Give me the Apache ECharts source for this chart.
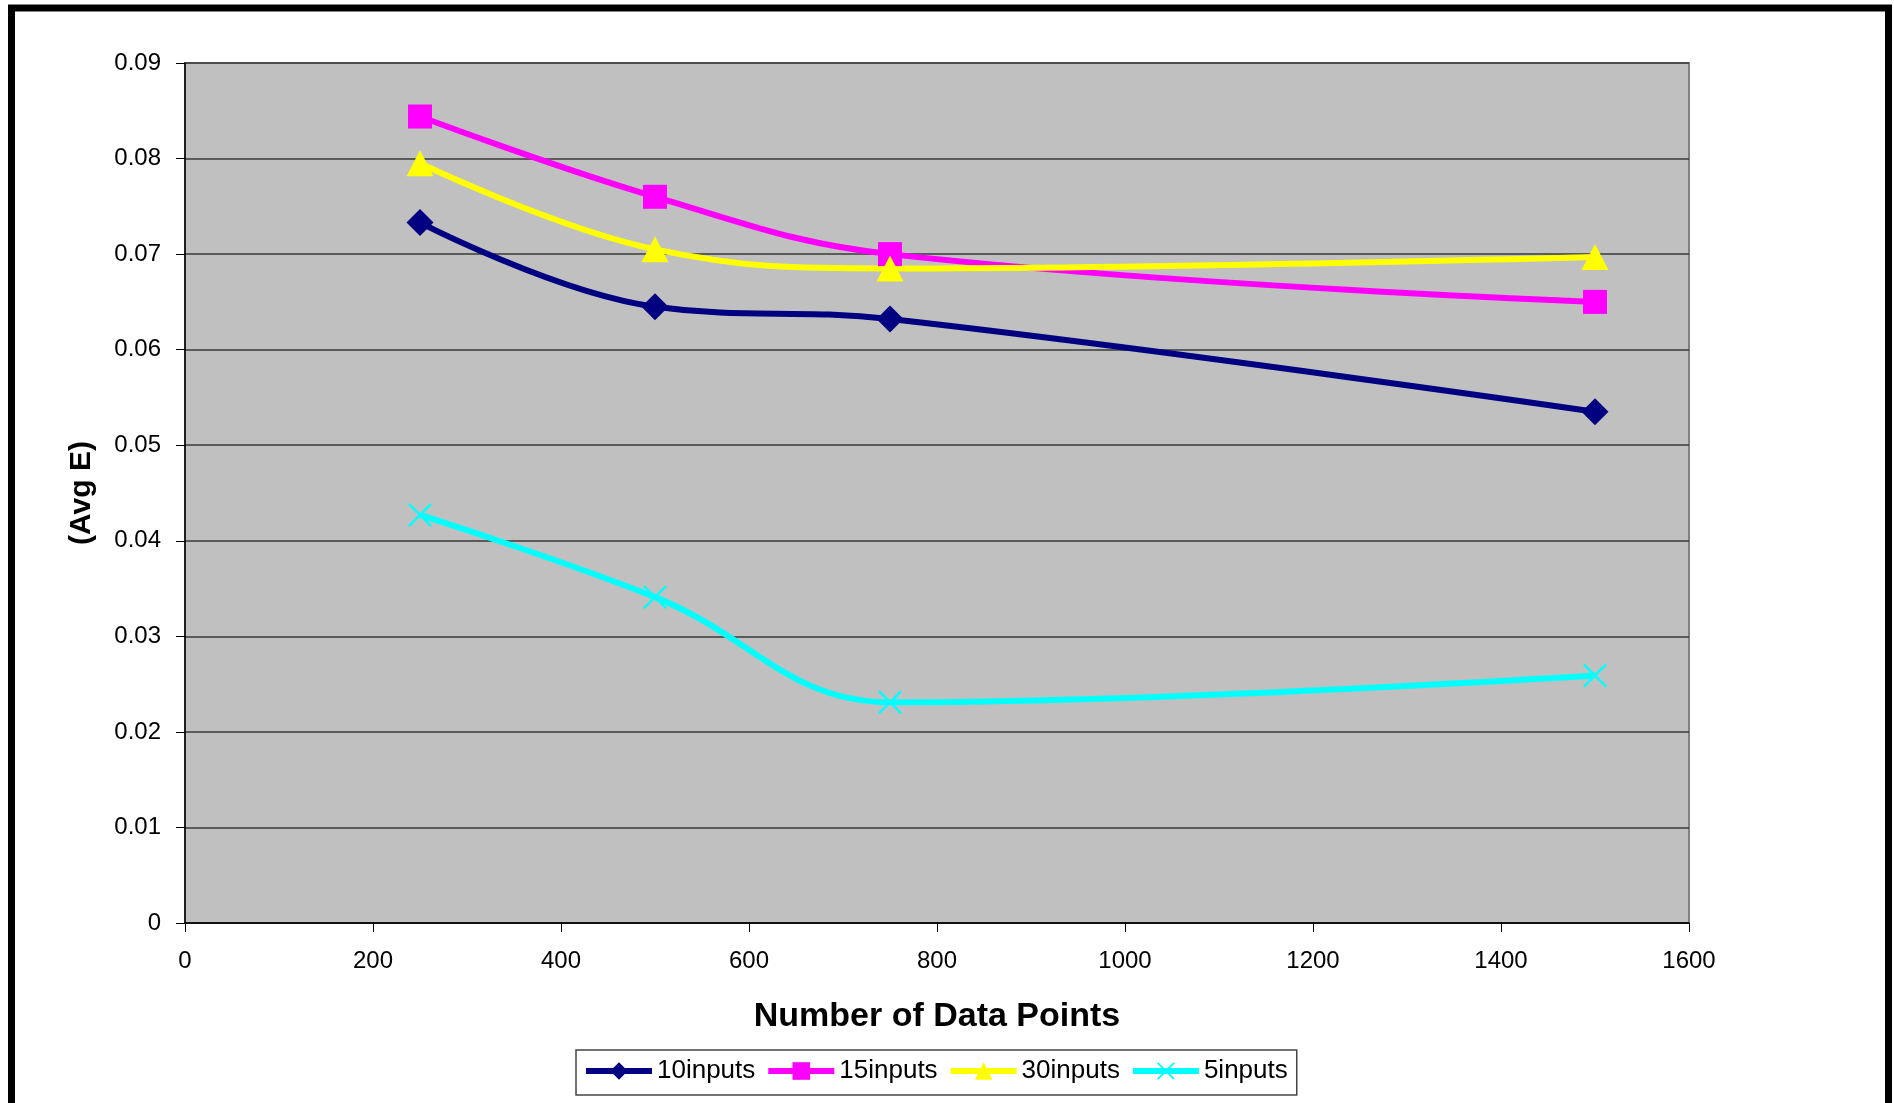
<!DOCTYPE html>
<html>
<head>
<meta charset="utf-8">
<script src="https://cdn.jsdelivr.net/npm/echarts@6/dist/echarts.min.js"></script>
<style>
html,body{margin:0;padding:0;background:#fff;}
#chart{width:1894px;height:1103px;}
</style>
</head>
<body>
<div id="chart"></div>
<script>
const xValues = [250, 500, 750, 1500];
const seriesNames = ['10inputs', '15inputs', '30inputs', '5inputs'];
const inputs10 = [0.0733, 0.0645, 0.0632, 0.0535];
const inputs15 = [0.0844, 0.0760, 0.0700, 0.0650];
const inputs30 = [0.0795, 0.0705, 0.0685, 0.0697];
const inputs5  = [0.0427, 0.0341, 0.0231, 0.0259];
const xTicks = [0, 200, 400, 600, 800, 1000, 1200, 1400, 1600];
const yTicks = [0, 0.01, 0.02, 0.03, 0.04, 0.05, 0.06, 0.07, 0.08, 0.09];

const FONT = '"Liberation Sans", Arial, sans-serif';
const crossPath = 'path://M0,7L7,0L50,43L93,0L100,7L57,50L100,93L93,100L50,57L7,100L0,93L43,50Z';

function pairs(vals){ return xValues.map((x,i)=>[x, vals[i]]); }

const styles = [
  {color:'#000080', symbol:'diamond', size:[27,27]},
  {color:'#FF00FF', symbol:'rect', size:[24,24]},
  {color:'#FFFF00', symbol:'triangle', size:[27,26]},
  {color:'#00FFFF', symbol:crossPath, size:[24,24]}
];
const data = [inputs10, inputs15, inputs30, inputs5];

const chart = echarts.init(document.getElementById('chart'), null, {renderer:'canvas'});
chart.setOption({
  animation:false,
  backgroundColor:'#ffffff',
  graphic:[{
    type:'rect', z:100,
    shape:{x:11.5, y:8, width:1877, height:1130},
    style:{fill:'none', stroke:'#000', lineWidth:7}
  }],
  grid:{
    left:185, top:63, width:1504, height:860,
    show:true, backgroundColor:'#C0C0C0', borderColor:'#808080', borderWidth:2
  },
  legend:{
    left:576, top:1050,
    data:seriesNames,
    itemWidth:66, itemHeight:22, itemGap:10,
    padding:[8,9,11,7],
    lineStyle:{width:6},
    borderColor:'#444', borderWidth:1.5, backgroundColor:'#fff',
    textStyle:{fontFamily:FONT, fontSize:26, color:'#000'}
  },
  xAxis:{
    type:'value', min:0, max:1600, interval:200,
    name:'Number of Data Points', nameLocation:'middle', nameGap:77,
    nameTextStyle:{fontFamily:FONT, fontSize:34, fontWeight:'bold', color:'#000'},
    axisLine:{show:true, lineStyle:{color:'#000', width:1.5}},
    axisTick:{show:true, inside:false, length:9, lineStyle:{color:'#000', width:1}},
    axisLabel:{fontFamily:FONT, fontSize:24, color:'#000', margin:26,
      formatter:function(v){ return xTicks.indexOf(v) >= 0 ? String(v) : ''; }},
    splitLine:{show:false}
  },
  yAxis:{
    type:'value', min:0, max:0.09, interval:0.01,
    name:'(Avg E)', nameLocation:'middle', nameGap:88,
    nameTextStyle:{fontFamily:FONT, fontSize:30, fontWeight:'bold', color:'#000'},
    axisLine:{show:true, lineStyle:{color:'#000', width:1.5}},
    axisTick:{show:true, inside:false, length:9, lineStyle:{color:'#000', width:1}},
    axisLabel:{fontFamily:FONT, fontSize:24, color:'#000', margin:24,
      formatter:function(v){
        const t = yTicks.find(y => Math.abs(y - v) < 1e-9);
        return t === undefined ? '' : (t === 0 ? '0' : t.toFixed(2));
      }},
    splitLine:{show:true, lineStyle:{color:'#3a3a3a', width:1.5}}
  },
  series: seriesNames.map((name,i)=>({
    name:name, type:'line', smooth:0.4,
    data:pairs(data[i]),
    symbol:styles[i].symbol, symbolSize:styles[i].size,
    showSymbol:true,
    lineStyle:{color:styles[i].color, width:6},
    itemStyle:{color:styles[i].color, borderWidth:0},
    emphasis:{disabled:true}
  }))
});
</script>
</body>
</html>
